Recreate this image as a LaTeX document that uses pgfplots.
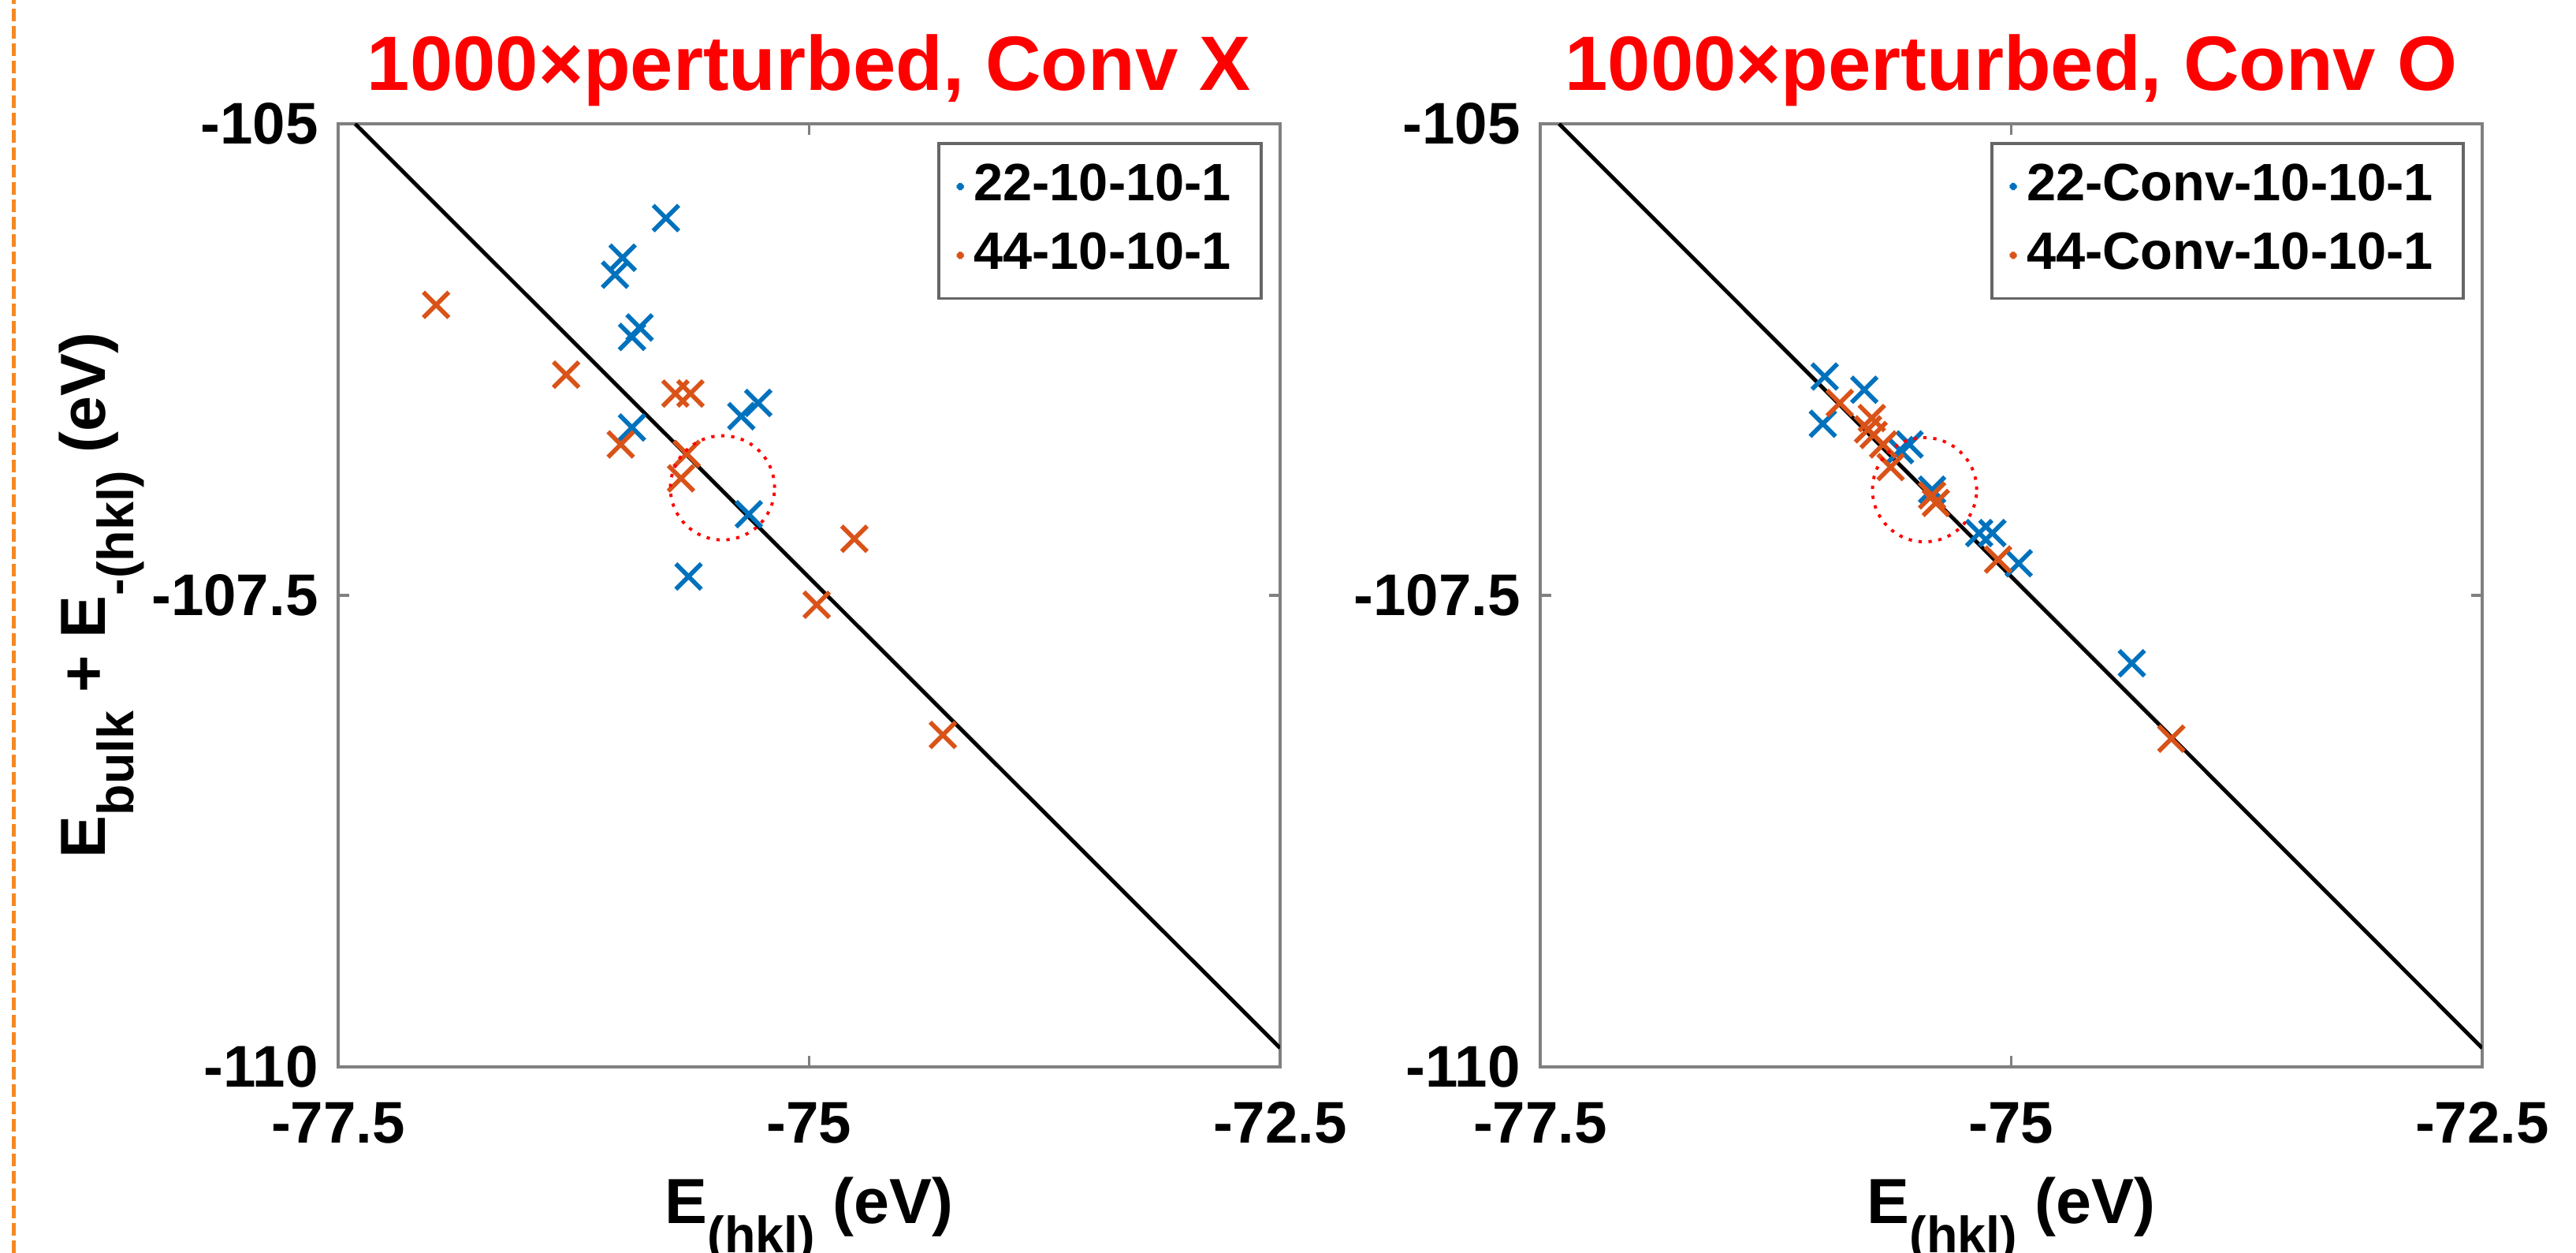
\documentclass[border=0pt]{standalone}
\usepackage{fontspec}
\setmainfont{Liberation Sans}
\usepackage{pgfplots}
\usepackage{pgfplotstable}
\pgfplotsset{compat=1.18}

\definecolor{mblue}{rgb}{0,0.447,0.741}
\definecolor{morange}{rgb}{0.85,0.325,0.098}
\definecolor{axgray}{gray}{0.5}
\definecolor{sideorange}{RGB}{244,137,36}

% subscript as in the original labels
\newcommand\sub[1]{\raisebox{-5.2pt}{\fontsize{9.2}{10}\selectfont #1}}

% panel 1: no convolution
\pgfplotstableread{
x y
-75.76 -105.50
-75.99 -105.71
-76.03 -105.80
-75.90 -106.08
-75.94 -106.13
-75.94 -106.61
-75.27 -106.48
-75.36 -106.55
-75.32 -107.07
-75.64 -107.40
}\leftblue
\pgfplotstableread{
x y
-76.98 -105.96
-76.29 -106.33
-75.71 -106.43
-75.63 -106.43
-76.00 -106.70
-75.65 -106.75
-75.68 -106.88
-74.76 -107.20
-74.96 -107.55
-74.29 -108.24
}\leftorange
% panel 2: with convolution
\pgfplotstableread{
x y
-75.99 -106.34
-75.78 -106.41
-76.00 -106.59
-75.54 -106.70
-75.59 -106.73
-75.42 -106.94
-75.17 -107.17
-75.10 -107.17
-74.96 -107.33
-74.36 -107.86
}\rightblue
\pgfplotstableread{
x y
-75.91 -106.48
-75.74 -106.56
-75.76 -106.62
-75.73 -106.65
-75.68 -106.70
-75.64 -106.82
-75.42 -106.97
-75.40 -107.01
-75.07 -107.31
-74.15 -108.26
}\rightorange

\pgfplotsset{
  panel/.style={
    scale only axis, width=59.75mm, height=59.8mm,
    xmin=-77.5, xmax=-72.5, ymin=-110, ymax=-105,
    xtick={-77.5,-75,-72.5}, ytick={-110,-107.5,-105},
    xticklabels={-77.5,-75,-72.5}, yticklabels={-110,-107.5,-105},
    tick align=inside, major tick length=2pt,
    axis line style={axgray, line width=0.5pt},
    every tick/.style={axgray, line width=0.5pt},
    tick label style={font=\fontsize{10.6}{12}\selectfont\bfseries},
    xticklabel style={anchor=base, inner sep=0pt, yshift=-4.85mm},
    yticklabel style={anchor=east, inner sep=0pt, xshift=-1.2mm},
    every axis title/.style={at={(0.5,1)}, anchor=base, yshift=2.1mm,
      font=\fontsize{13.9}{16}\selectfont\bfseries, text=red},
    every axis x label/.style={at={(axis description cs:0.5,0)}, anchor=base,
      yshift=-9.95mm, font=\fontsize{11.5}{13}\selectfont\bfseries},
    every axis y label/.style={at={(axis description cs:-0.2477,0.5)}, anchor=base,
      rotate=90, font=\fontsize{11.5}{13}\selectfont\bfseries},
    legend style={at={(1,1)}, anchor=north east, xshift=-1.1mm, yshift=-1.15mm,
      draw=gray!80!black, line width=0.55pt, inner xsep=1.2mm, inner ysep=0.6mm,
      row sep=0.1mm, font=\fontsize{9.5}{11}\selectfont\bfseries},
    legend cell align=left,
  },
  xmark/.style={only marks, mark=x, mark size=3.25pt, line width=0.8pt,
    legend image code/.code={\draw[mark repeat=2,mark phase=2,##1,mark size=0.6pt]
      plot coordinates {(0cm,0cm)(0.12cm,0cm)(0.24cm,0cm)};}},
  ringmark/.style={only marks, mark=o, mark size=9.4pt,
    mark options={draw=red, line width=0.55pt, dash pattern=on 0.6pt off 1.2pt}},
}

\begin{document}
\begin{tikzpicture}
\useasboundingbox (0,0) rectangle (163.4mm,79.45mm);
\draw[sideorange, line width=0.25mm, dash pattern=on 0.8mm off 0.3mm] (0.85mm,0) -- (0.85mm,79.45mm);

\begin{axis}[panel, at={(21.45mm,11.8mm)}, anchor=south west,
  title={1000×perturbed, Conv X},
  xlabel={E\sub{(hkl)} (eV)},
  ylabel={E\sub{bulk} + E\sub{-(hkl)} (eV)}]
\addplot[black, line width=0.7pt, forget plot] coordinates {(-77.41,-105) (-72.5,-109.90)};
\addplot[xmark, mblue] table {\leftblue};
\addlegendentry{22-10-10-1}
\addplot[xmark, morange] table {\leftorange};
\addlegendentry{44-10-10-1}
\addplot[ringmark, forget plot] coordinates {(-75.46,-106.93)};
\end{axis}

\begin{axis}[panel, at={(97.7mm,11.8mm)}, anchor=south west,
  title={1000×perturbed, Conv O},
  xlabel={E\sub{(hkl)} (eV)}]
\addplot[black, line width=0.7pt, forget plot] coordinates {(-77.40,-105) (-72.5,-109.90)};
\addplot[xmark, mblue] table {\rightblue};
\addlegendentry{22-Conv-10-10-1}
\addplot[xmark, morange] table {\rightorange};
\addlegendentry{44-Conv-10-10-1}
\addplot[ringmark, forget plot] coordinates {(-75.46,-106.94)};
\end{axis}
\end{tikzpicture}
\end{document}
